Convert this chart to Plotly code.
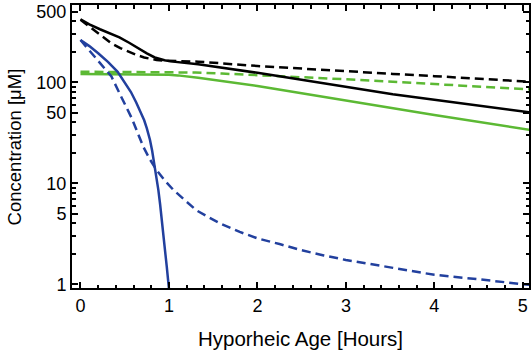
import plotly.graph_objects as go

# ---- data ----
black_solid_x = [0, 0.1, 0.22, 0.33, 0.44, 0.55, 0.65, 0.75, 0.84, 0.9, 0.95, 1.02, 1.1, 1.33, 2, 3, 3.53, 4, 5.1]
black_solid_y = [421, 375, 335, 305, 278, 246, 217, 193, 176, 169, 165, 161, 158, 151, 124, 90, 76, 67, 50]

black_dash_x = [0, 0.07, 0.14, 0.25, 0.35, 0.45, 0.54, 0.63, 0.72, 0.8, 0.86, 0.93, 1.0, 1.33, 2, 3, 3.53, 4, 5.1]
black_dash_y = [415, 372, 335, 284, 243, 218, 200, 187, 176, 169, 166, 164, 163, 160, 145, 128, 121, 115, 101]

green_solid_x = [0, 0.5, 0.8, 0.9, 1.0, 1.1, 1.33, 2, 3, 3.53, 4, 5.1]
green_solid_y = [121, 121, 121, 120, 119, 117, 111, 92, 66, 55, 47.5, 33.6]

green_dash_x = [0, 1.0, 1.15, 1.3, 1.6, 2, 3, 3.53, 4, 5.1]
green_dash_y = [127, 127, 126, 125, 122, 118, 107, 101, 96, 85]

blue_solid_x = [0, 0.1, 0.2, 0.31, 0.42, 0.5, 0.57, 0.63, 0.69, 0.72, 0.75, 0.785, 0.81, 0.84, 0.86, 0.88, 0.9, 0.917, 0.935, 0.95, 0.975, 1.0]
blue_solid_y = [262, 228, 194, 159, 127, 100, 80, 63, 49, 42, 35, 27, 21, 14.6, 11.2, 8.6, 6.2, 4.3, 3.2, 2.4, 1.5, 0.9]

blue_dash_x = [0, 0.08, 0.16, 0.25, 0.35, 0.46, 0.52, 0.58, 0.65, 0.71, 0.78, 0.86, 0.95, 1.05, 1.18, 1.31, 1.45, 1.58, 1.8, 2.0, 2.25, 2.5, 2.75, 3.0, 3.5, 4.0, 4.5, 5.1]
blue_dash_y = [262, 216, 179, 145, 114, 72, 56, 44, 31, 23, 17.5, 13.5, 10.7, 8.6, 6.8, 5.4, 4.6, 4.0, 3.3, 2.85, 2.5, 2.17, 1.93, 1.74, 1.47, 1.24, 1.12, 0.98]

x_major = [0, 1, 2, 3, 4, 5]
x_minor = [0.2, 0.4, 0.6, 0.8, 1.2, 1.4, 1.6, 1.8, 2.2, 2.4, 2.6, 2.8,
           3.2, 3.4, 3.6, 3.8, 4.2, 4.4, 4.6, 4.8]
y_major = [1, 5, 10, 50, 100, 500]
y_major_text = ["1", "5", "10", "50", "100", "500"]
y_minor = [2, 3, 4, 6, 7, 8, 9, 20, 30, 40, 60, 70, 80, 90, 200, 300, 400]

x_title = "Hyporheic Age [Hours]"
y_title = "Concentration [μM]"

BLACK = "#000000"
GREEN = "#5cb934"
BLUE = "#22409e"
DASH = "9px,5px"
LW = 2.5

fig = go.Figure()
series = [
    (green_solid_x, green_solid_y, GREEN, "solid"),
    (green_dash_x, green_dash_y, GREEN, DASH),
    (blue_dash_x, blue_dash_y, BLUE, DASH),
    (blue_solid_x, blue_solid_y, BLUE, "solid"),
    (black_dash_x, black_dash_y, BLACK, DASH),
    (black_solid_x, black_solid_y, BLACK, "solid"),
]
for xs, ys, col, dash in series:
    fig.add_trace(go.Scatter(x=xs, y=ys, mode="lines",
                             line=dict(color=col, width=LW, dash=dash),
                             showlegend=False, hoverinfo="skip"))

FONT = "Liberation Sans, Arial, sans-serif"

fig.update_layout(template="simple_white")

axis_common = dict(
    showline=True, linecolor="black", linewidth=2, mirror="ticks",
    ticks="inside", ticklen=6, tickwidth=2, tickcolor="black",
    showgrid=False, zeroline=False, automargin=False,
    tickfont=dict(family=FONT, size=18, color="black"),
)
minor_common = dict(tickmode="array", ticks="inside", ticklen=3.5, tickwidth=2,
                    tickcolor="black", showgrid=False)
fig.update_xaxes(
    range=[-0.096, 5.07], tickmode="array", tickvals=x_major,
    ticktext=[str(v) for v in x_major],
    minor=dict(tickvals=x_minor, **minor_common),
    title=dict(text=x_title, font=dict(family=FONT, size=20.5, color="black"), standoff=17),
    **axis_common,
)
fig.update_yaxes(
    type="log", range=[-0.037, 2.765], tickmode="array", tickvals=y_major, ticktext=y_major_text,
    minor=dict(tickvals=y_minor, **minor_common),
    **axis_common,
)
fig.add_annotation(text=y_title, xref="paper", yref="paper", x=-0.125, y=0.5,
                   xanchor="center", yanchor="middle", textangle=-90, showarrow=False,
                   font=dict(family=FONT, size=18.5, color="black"))
fig.update_layout(
    width=532, height=353,
    margin=dict(l=72, r=3, t=5, b=65),
    plot_bgcolor="white", paper_bgcolor="white",
    font=dict(family=FONT, color="black"),
)
fig.write_html("out.html", config={"displayModeBar": False},
               post_script="document.body.style.margin='0';document.body.style.padding='0';")
